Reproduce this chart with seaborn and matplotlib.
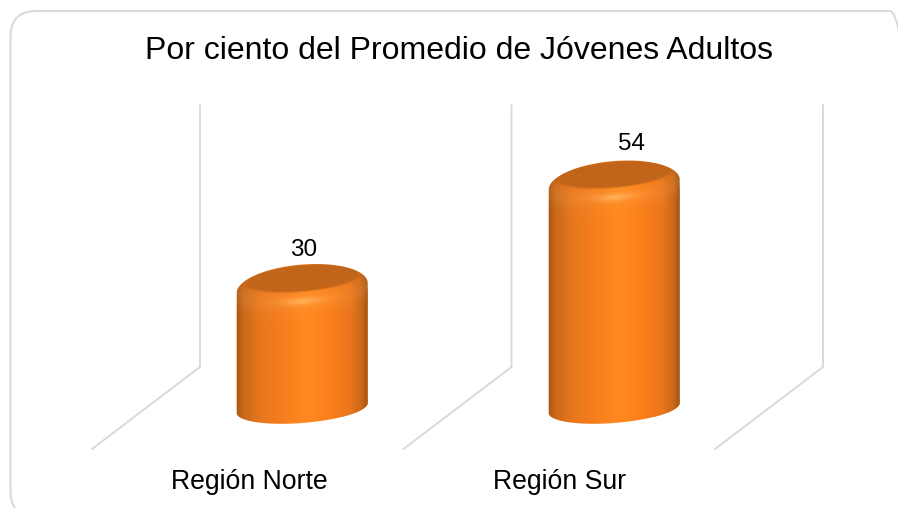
import numpy as np
import matplotlib
matplotlib.use('Agg')
import matplotlib.pyplot as plt
from matplotlib.colors import to_rgb
from matplotlib.patches import FancyBboxPatch, PathPatch
from matplotlib.path import Path
from matplotlib.transforms import IdentityTransform
import seaborn as sns

# chart values
regions = ['Región Norte', 'Región Sur']
values = [30, 54]
title = 'Por ciento del Promedio de Jóvenes Adultos'

W, H = 898, 508
AX_BOTTOM = 462         # axes bottom edge, pixels from the top
PX_X = 312.0            # pixels per category step
PX_Y = 4.31             # pixels per value unit
X0_PX = 302.2           # pixel column of first category
V30_PX = 288.0          # pixel row of value 30
FOOT = 2.16             # the cylinders float a little above zero

GRID = '#D9D9D9'
TOP = '#C1651A'
GRAD_POS = [-1.0, -0.9, -0.65, -0.25, 0.05, 0.4, 0.72, 0.9, 1.0]
GRAD_COL = ['#AE5812', '#C9691A', '#E8771D', '#F97F1E', '#FF8A20', '#FC801C', '#EA761C', '#C8681A', '#9E5210']
LABEL_DX = [1, 17]      # the 3D labels do not sit exactly over the bars
LABEL_DY = [38, 41]


def px2x(px):
    return (px - X0_PX) / PX_X


def px2y(py):
    return 30 - (py - V30_PX) / PX_Y


def body_gradient(u):
    rgb = np.array([to_rgb(c) for c in GRAD_COL])
    return np.stack([np.interp(u, GRAD_POS, rgb[:, i]) for i in range(3)], axis=-1)


def arc(cx, cy, a, b, k, t0, t1, n=80):
    # sheared ellipse in pixels, y going down
    t = np.linspace(t0, t1, n)
    return np.column_stack([cx + a * np.cos(t), cy - b * np.sin(t) - k * np.cos(t)])


def draw_cylinder(ax, patch):
    # take the geometry from the bar seaborn drew, then paint the fake 3D look on it
    a = patch.get_width() * PX_X / 2
    cx = X0_PX + (patch.get_x() + patch.get_width() / 2) * PX_X
    cy = V30_PX + (30 - patch.get_height()) * PX_Y
    fy = V30_PX + (30 - FOOT) * PX_Y

    outline = np.vstack([arc(cx, cy, a, 23.5, 5, 0, np.pi), arc(cx, fy, a, 15, 5, np.pi, 2 * np.pi)])
    verts = np.column_stack([px2x(outline[:, 0]), px2y(outline[:, 1])])
    clip = PathPatch(Path(np.vstack([verts, verts[:1]]), closed=True), transform=ax.transData,
                     facecolor='none', edgecolor='none')
    ax.add_patch(clip)
    patch.set_clip_path(clip)

    # shading on a 2x pixel grid
    x0, x1, y0, y1 = cx - a - 2, cx + a + 2, cy - 30, fy + 20
    xs = np.arange(x0, x1, 0.5)
    ys = np.arange(y0, y1, 0.5)
    X, Y = np.meshgrid(xs, ys)
    u = np.clip((X - cx) / a, -1, 1)
    img = body_gradient(u)

    # ridge of the bevel
    ridge = cy + 13 * np.sqrt(1 - u ** 2) - 5 * u
    d = Y - ridge
    glow = np.exp(-(d / 11.0) ** 2) * 0.13 + np.exp(-(d / 3.5) ** 2) * np.exp(-(u / 0.3) ** 2) * 0.55
    img = img + (np.array(to_rgb('#FFC070')) - img) * np.clip(glow, 0, 1)[..., None]

    # flat inner disc
    ai, ci, bi, ki = a * 0.9, cy - 10, 13.5, 5
    uu = (X - cx) / ai
    vv = (ci - Y - ki * uu) / bi
    r = np.sqrt(uu ** 2 + vv ** 2)
    disc = np.clip((1.05 - r) / 0.14, 0, 1)
    img = img + (np.array(to_rgb(TOP)) - img) * disc[..., None]

    ax.imshow(np.clip(img, 0, 1), extent=[px2x(x0), px2x(x1), px2y(y1), px2y(y0)], origin='upper',
              aspect='auto', interpolation='bilinear', clip_path=clip, zorder=3)


sns.set_theme(style='white')
plt.rcParams['font.family'] = ['Liberation Sans', 'DejaVu Sans']

fig = plt.figure(figsize=(W / 100, H / 100), dpi=100)
fig.patch.set_facecolor('white')
ax = fig.add_axes([0, (H - AX_BOTTOM) / H, 1, AX_BOTTOM / H])
ax.patch.set_alpha(0)

sns.barplot(x=regions, y=values, width=131 / PX_X, color='#F07A1E', saturation=1, ax=ax, zorder=2)

# the three back walls and their floor lines
for i in range(3):
    wx = 200 + i * PX_X - 0.5 * i
    ax.plot([px2x(wx), px2x(wx), px2x(wx - 108)], [px2y(105), px2y(367), px2y(449)],
            color=GRID, lw=1.4, solid_joinstyle='miter', zorder=1)

for i, patch in enumerate(ax.patches[:len(values)]):
    draw_cylinder(ax, patch)
    ax.annotate(str(values[i]), (patch.get_x() + patch.get_width() / 2, patch.get_height()),
                xytext=(LABEL_DX[i] * 0.72, LABEL_DY[i] * 0.72), textcoords='offset points',
                ha='center', va='center', fontsize=17.5, color='black', zorder=5)

ax.set_xlim(px2x(0), px2x(W))
ax.set_ylim(px2y(AX_BOTTOM), px2y(0))
ax.set_xticks([px2x(249), px2x(560)])
ax.set_xticklabels(regions, fontsize=19.2, color='black')
ax.tick_params(axis='x', length=0, pad=5)
ax.set_yticks([])
ax.set_xlabel('')
ax.set_ylabel('')
sns.despine(ax=ax, left=True, bottom=True)

fig.text(459 / W, 1 - 51 / H, title, ha='center', va='center', fontsize=23.05, color='black')

# rounded card frame, runs off the right and bottom edges
fig.add_artist(FancyBboxPatch((10.5, H - 517), 905, 506, boxstyle='round,pad=0,rounding_size=26',
                              transform=IdentityTransform(), facecolor='none', edgecolor=GRID, lw=1.4))

fig.savefig('out.png', dpi=100)
